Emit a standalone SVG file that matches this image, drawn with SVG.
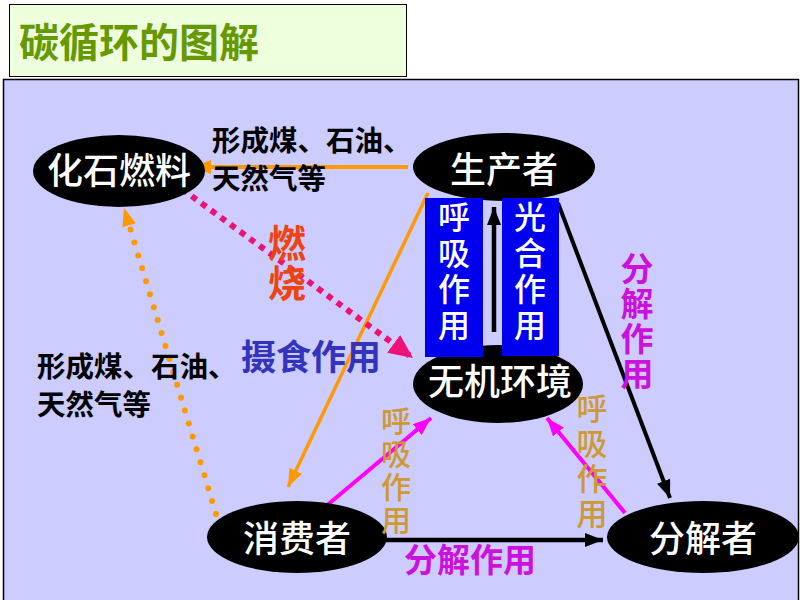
<svg xmlns="http://www.w3.org/2000/svg" width="800" height="600" viewBox="0 0 800 600">
<style>
text{font-family:"Noto Sans CJK SC","Noto Sans",sans-serif;font-weight:bold;}
.node ellipse{fill:#000;}
.node text{fill:#fff;font-size:36px;text-anchor:middle;font-weight:500;}
.box{fill:#0000EE;}
.vt{writing-mode:vertical-rl;}
.boxt{fill:#fff;font-size:32px;letter-spacing:4px;font-weight:500;}
.blk{fill:#000;font-size:28.5px;}
.gold{fill:#CC9933;font-weight:500;}
.mag{fill:#CC11DD;font-size:33px;}
</style>
<defs>
<marker id="aOr" markerUnits="userSpaceOnUse" markerWidth="18" markerHeight="14" refX="18" refY="7" orient="auto"><path d="M0,0 L18,7 L0,14 z" fill="#FF9900"/></marker>
<marker id="aBk" markerUnits="userSpaceOnUse" markerWidth="18" markerHeight="14" refX="18" refY="7" orient="auto"><path d="M0,0 L18,7 L0,14 z" fill="#000"/></marker>
<marker id="aMg" markerUnits="userSpaceOnUse" markerWidth="18" markerHeight="14" refX="18" refY="7" orient="auto"><path d="M0,0 L18,7 L0,14 z" fill="#FF00FF"/></marker>
<marker id="aPk" markerUnits="userSpaceOnUse" markerWidth="24" markerHeight="22" refX="24" refY="11" orient="auto"><path d="M0,0 L24,11 L0,22 z" fill="#EE1177"/></marker>
</defs>
<rect x="9.5" y="4.5" width="397" height="72" fill="#EEFFDD" stroke="#000" stroke-width="1"/>
<text x="19" y="57" font-size="40" fill="#669900">碳循环的图解</text>
<rect x="3.5" y="79.5" width="795" height="530" fill="#CCCCFF" stroke="#000" stroke-width="1.5"/>
<g id="connectors" fill="none">
<line x1="408" y1="167" x2="193" y2="167" stroke="#FF9900" stroke-width="4" marker-end="url(#aOr)"/>
<line x1="428" y1="193" x2="288" y2="487" stroke="#FF9900" stroke-width="3.5" marker-end="url(#aOr)"/>
<line x1="182" y1="189" x2="413" y2="358" stroke="#EE1177" stroke-width="6" stroke-dasharray="6 6" marker-end="url(#aPk)"/>
<line x1="216" y1="514" x2="124" y2="208" stroke="#FF9900" stroke-width="6" stroke-linecap="round" stroke-dasharray="0 13.5" marker-end="url(#aOr)"/>
<line x1="558" y1="203" x2="670" y2="498" stroke="#000" stroke-width="4" marker-end="url(#aBk)"/>
<line x1="385" y1="540" x2="603" y2="540" stroke="#000" stroke-width="4.5" marker-end="url(#aBk)"/>
<line x1="325" y1="507" x2="431" y2="418" stroke="#FF00FF" stroke-width="4" marker-end="url(#aMg)"/>
<line x1="625" y1="513" x2="547" y2="418" stroke="#FF00FF" stroke-width="4" marker-end="url(#aMg)"/>
</g>
<g id="fossil" class="node"><ellipse cx="119" cy="171" rx="86" ry="36"/><text x="119" y="184" font-size="35">化石燃料</text></g>
<g id="producer" class="node"><ellipse cx="504" cy="167" rx="91" ry="34"/><text x="504" y="183">生产者</text></g>
<g id="environment" class="node"><ellipse cx="498" cy="384" rx="85" ry="39"/><text x="500" y="395" font-size="38">无机环境</text></g>
<g id="consumer" class="node"><ellipse cx="297" cy="537" rx="90" ry="36"/><text x="297" y="552" font-size="38">消费者</text></g>
<g id="decomposer" class="node"><ellipse cx="703" cy="537" rx="96" ry="36"/><text x="703" y="552" font-size="38">分解者</text></g>
<g id="respiration-box">
<rect class="box" x="425" y="198" width="58" height="159"/>
<text class="vt boxt" x="454" y="201">呼吸作用</text>
</g>
<g id="photosynthesis-box">
<rect class="box" x="502" y="198" width="57" height="158"/>
<text class="vt boxt" x="530" y="201">光合作用</text>
</g>
<g id="photo-arrow"><line x1="494" y1="332" x2="494" y2="207" stroke="#000" stroke-width="4.5" marker-end="url(#aBk)"/></g>
<g id="labels">
<text class="blk" x="212" y="151">形成煤、石油、</text>
<text class="blk" x="212" y="189">天然气等</text>
<text class="blk" x="37" y="377">形成煤、石油、</text>
<text class="blk" x="37" y="415">天然气等</text>
<text class="vt" x="287" y="224" font-size="38" letter-spacing="2" fill="#EE4411">燃烧</text>
<text x="241" y="370" font-size="35" fill="#3333BB">摄食作用</text>
<text class="vt gold" x="396" y="406" font-size="30" letter-spacing="3">呼吸作用</text>
<text class="vt gold" x="592" y="393" font-size="31" letter-spacing="4">呼吸作用</text>
<text class="vt mag" x="637" y="252" letter-spacing="2">分解作用</text>
<text class="mag" x="404" y="572" font-size="34">分解作用</text>
</g>
</svg>
